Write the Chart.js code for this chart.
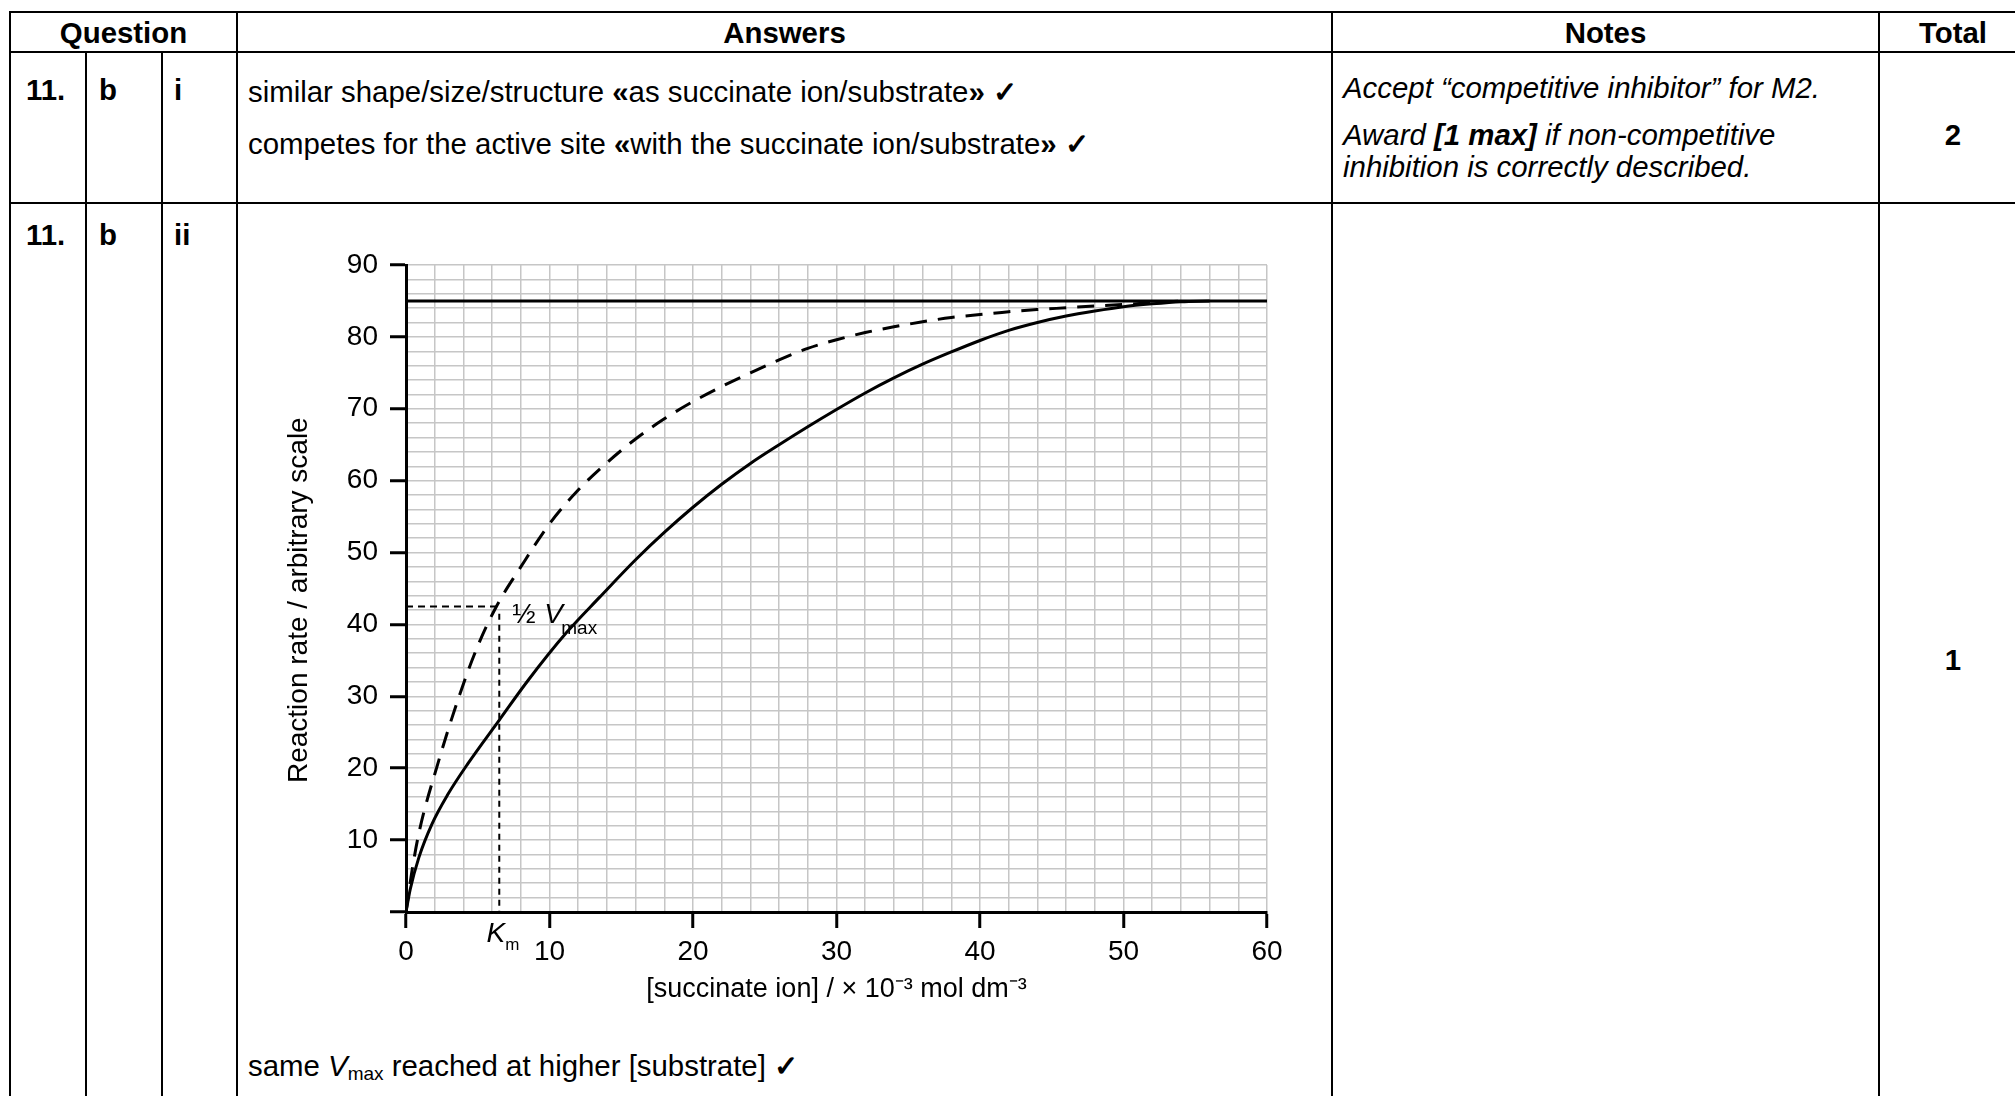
<!DOCTYPE html>
<html>
<head>
<meta charset="utf-8">
<script src="https://cdn.jsdelivr.net/npm/chart.js@4.4.0/dist/chart.umd.min.js"></script>
<style>
body { margin: 0; width: 2015px; height: 1096px; overflow: hidden; background: #fff; color: #000;
       font-family: "Liberation Sans", Arial, sans-serif; position: relative; }
.ln { position: absolute; background: #000; }
.t { position: absolute; font-size: 29.4px; line-height: 32px; white-space: nowrap; }
.c { text-align: center; }
.b { font-weight: bold; }
.i { font-style: italic; }
.ck { font-weight: bold; }
sub { font-size: 19px; vertical-align: -4px; line-height: 0; }
#rateChart { position: absolute; left: 240px; top: 230px; }
</style>
</head>
<body>

<!-- table rules -->
<div class="ln" style="left:9px;top:11px;width:2010px;height:2px"></div>
<div class="ln" style="left:9px;top:51px;width:2010px;height:2px"></div>
<div class="ln" style="left:9px;top:202px;width:2010px;height:2px"></div>
<div class="ln" style="left:9px;top:11px;width:2px;height:1090px"></div>
<div class="ln" style="left:85px;top:51px;width:2px;height:1050px"></div>
<div class="ln" style="left:161px;top:51px;width:2px;height:1050px"></div>
<div class="ln" style="left:236px;top:11px;width:2px;height:1090px"></div>
<div class="ln" style="left:1331px;top:11px;width:2px;height:1090px"></div>
<div class="ln" style="left:1878px;top:11px;width:2px;height:1090px"></div>

<!-- header -->
<div class="t c b" style="left:10px;width:227px;top:17px">Question</div>
<div class="t c b" style="left:237px;width:1095px;top:17px">Answers</div>
<div class="t c b" style="left:1332px;width:547px;top:17px">Notes</div>
<div class="t c b" style="left:1879px;width:148px;top:17px">Total</div>

<!-- row 1 -->
<div class="t b" style="left:26px;top:74px">11.</div>
<div class="t b" style="left:99px;top:74px">b</div>
<div class="t b" style="left:174px;top:74px">i</div>
<div class="t" style="left:248px;top:76px">similar shape/size/structure <b>«</b>as succinate ion/substrate<b>»</b> <span class="ck">✓</span></div>
<div class="t" style="left:248px;top:128px">competes for the active site <b>«</b>with the succinate ion/substrate<b>»</b> <span class="ck">✓</span></div>
<div class="t i" style="left:1343px;top:72px">Accept “competitive inhibitor” for M2.</div>
<div class="t i" style="left:1343px;top:119px">Award <b>[1 max]</b> if non-competitive</div>
<div class="t i" style="left:1343px;top:151px">inhibition is correctly described.</div>
<div class="t c b" style="left:1879px;width:148px;top:119px">2</div>

<!-- row 2 -->
<div class="t b" style="left:26px;top:219px">11.</div>
<div class="t b" style="left:99px;top:219px">b</div>
<div class="t b" style="left:174px;top:219px">ii</div>
<div class="t c b" style="left:1879px;width:148px;top:644px">1</div>
<div class="t" style="left:248px;top:1050px">same <i>V</i><sub>max</sub> reached at higher [substrate] <span class="ck">✓</span></div>

<canvas id="rateChart" width="1060" height="800"></canvas>

<script>
// axis ranges
const xMin = 0, xMax = 60, xStep = 2;
const yMin = 0, yMax = 90, yStep = 2;

// Vmax and Km
const vmax = 85;
const km = 6.5;

// uninhibited enzyme (dashed curve)
const dashX = [0, 0.4, 0.9, 2.2, 3.7, 5.0, 6.3, 8, 10, 12, 14, 16, 18, 20, 22, 24, 26, 28, 30,
               32, 34, 36, 38, 40, 42, 44, 46, 48, 50, 52, 54];
const dashY = [0, 5.5, 11, 20.5, 30, 37, 42.5, 48, 54, 58.7, 62.5, 65.8, 68.6, 71, 73.1, 75, 76.8, 78.4, 79.6,
               80.6, 81.4, 82.1, 82.7, 83.1, 83.5, 83.8, 84.05, 84.3, 84.5, 84.75, 85];

// with competitive inhibitor (solid curve)
const solidX = [0, 0.3, 0.9, 1.8, 2.9, 4.3, 6.5, 8.5, 11.2, 13.5, 16, 18, 20, 22, 24, 26, 28, 30,
                32, 34, 36, 38, 40, 42, 44, 46, 48, 50, 52, 54, 56];
const solidY = [0, 3.2, 7.6, 12.2, 16.3, 20.6, 26.7, 32.2, 38.9, 43.8, 49, 52.8, 56.3, 59.5, 62.4, 65, 67.5, 69.9,
                72.2, 74.3, 76.2, 77.9, 79.5, 80.9, 82, 82.9, 83.6, 84.2, 84.6, 84.9, 85];

// Vmax line and the half-Vmax / Km construction lines
const vmaxLineX = [0, 60];
const halfLineX = [0, 6.3];
const kmLineY = [41.5, 0];

const toPoints = (xs, ys) => xs.map((x, i) => ({ x: x, y: ys[i] }));
const FONT = '"Liberation Sans", Arial, sans-serif';
Chart.defaults.font.family = FONT;
Chart.defaults.color = '#000';

// Km and ½Vmax labels, placed with the chart's own scales
const labelPlugin = {
    id: 'kmLabels',
    afterDatasetsDraw(chart) {
        const { ctx, chartArea, scales } = chart;
        const kx = scales.x.getPixelForValue(km);
        const hy = scales.y.getPixelForValue(vmax / 2);
        ctx.save();
        ctx.fillStyle = '#000';
        ctx.textBaseline = 'alphabetic';

        ctx.textAlign = 'right';
        ctx.font = 'italic 28px ' + FONT;
        ctx.fillText('K', kx + 6, chartArea.bottom + 30);
        ctx.textAlign = 'left';
        ctx.font = '17px ' + FONT;
        ctx.fillText('m', kx + 6, chartArea.bottom + 38);

        ctx.font = '28px ' + FONT;
        ctx.fillText('½', kx + 13, hy + 17);
        ctx.font = 'italic 28px ' + FONT;
        ctx.fillText('V', kx + 45, hy + 17);
        ctx.font = '19px ' + FONT;
        ctx.fillText('max', kx + 62, hy + 28);
        ctx.restore();
    }
};

const tickOn10 = c => (c.tick && c.tick.value % 10 === 0) ? '#000' : 'rgba(0,0,0,0)';

const ctx = document.getElementById('rateChart').getContext('2d');
new Chart(ctx, {
    type: 'line',
    data: {
        datasets: [
            {
                data: toPoints(vmaxLineX, vmaxLineX.map(() => vmax)),
                borderColor: '#000',
                borderWidth: 3
            },
            {
                data: toPoints(dashX, dashY),
                borderColor: '#000',
                borderWidth: 3,
                borderDash: [17, 11],
                cubicInterpolationMode: 'monotone'
            },
            {
                data: toPoints(solidX, solidY),
                borderColor: '#000',
                borderWidth: 3,
                cubicInterpolationMode: 'monotone'
            },
            {
                data: toPoints(halfLineX, halfLineX.map(() => vmax / 2)),
                borderColor: '#000',
                borderWidth: 2,
                borderDash: [7, 5]
            },
            {
                data: toPoints(kmLineY.map(() => km), kmLineY),
                borderColor: '#000',
                borderWidth: 2,
                borderDash: [6, 5]
            }
        ]
    },
    options: {
        responsive: false,
        animation: false,
        layout: {
            padding: { top: 35, right: 33, left: 0, bottom: 0 }
        },
        elements: {
            point: { radius: 0 },
            line: { fill: false }
        },
        plugins: {
            legend: { display: false },
            tooltip: { enabled: false }
        },
        scales: {
            x: {
                type: 'linear',
                min: xMin,
                max: xMax,
                afterFit: scale => { scale.height = 118; },
                ticks: {
                    stepSize: xStep,
                    autoSkip: false,
                    maxRotation: 0,
                    padding: 7,
                    font: { size: 28 },
                    callback: v => v % 10 === 0 ? String(v) : ''
                },
                grid: {
                    color: '#c6c6c6',
                    lineWidth: 1.5,
                    tickLength: 16,
                    tickWidth: 3,
                    tickColor: tickOn10
                },
                border: { color: '#000', width: 3 },
                title: {
                    display: true,
                    text: '[succinate ion] / × 10⁻³ mol dm⁻³',
                    font: { size: 27 },
                    padding: { top: 0, bottom: 24 }
                }
            },
            y: {
                min: yMin,
                max: yMax,
                afterFit: scale => { scale.width = 166; },
                ticks: {
                    stepSize: yStep,
                    autoSkip: false,
                    padding: 12,
                    font: { size: 28 },
                    callback: v => (v % 10 === 0 && v !== 0) ? String(v) : ''
                },
                grid: {
                    color: '#c6c6c6',
                    lineWidth: 1.5,
                    tickLength: 16,
                    tickWidth: 3,
                    tickColor: tickOn10
                },
                border: { color: '#000', width: 3 },
                title: {
                    display: true,
                    text: 'Reaction rate / arbitrary scale   ',
                    font: { size: 28 },
                    padding: { top: 42, bottom: 0 }
                }
            }
        }
    },
    plugins: [labelPlugin]
});
</script>
</body>
</html>
